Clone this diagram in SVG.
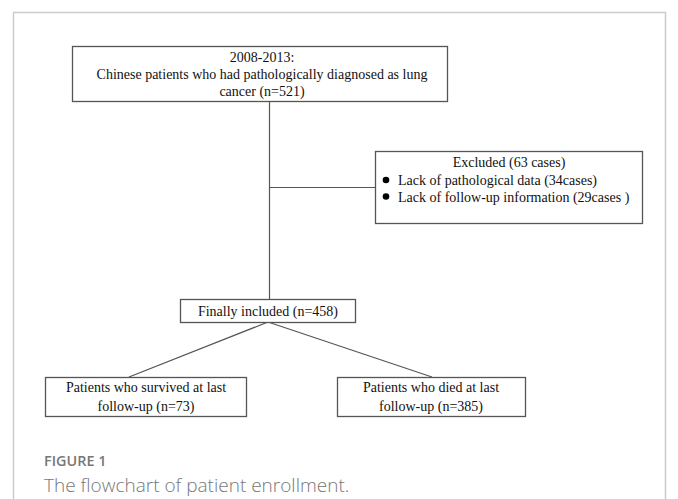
<svg xmlns="http://www.w3.org/2000/svg" width="678" height="499" viewBox="0 0 678 499">
<style>
.box{fill:#fff;stroke:#555;stroke-width:1.3}
.t{font-family:"Liberation Serif","Times New Roman",serif;font-size:14px;fill:#111}
.c{text-anchor:middle}
.ln{stroke:#555;stroke-width:1.2;fill:none}
.cap1{font-family:"Open Sans","Noto Sans",sans-serif;font-size:14.4px;font-weight:600;fill:#777}
.cap2{font-family:"Open Sans","Noto Sans",sans-serif;font-size:19px;font-weight:300;fill:#777}
</style>
<rect x="0" y="0" width="678" height="499" fill="#fff"/>
<path d="M13.5 510 V12.5 H665.5 V510" fill="none" stroke="#ccc" stroke-width="1.5"/>
<g id="connectors">
<line class="ln" x1="269.5" y1="102" x2="269.5" y2="299"/>
<line class="ln" x1="269.5" y1="187.5" x2="375" y2="187.5"/>
<line class="ln" x1="268" y1="322" x2="129" y2="377"/>
<line class="ln" x1="268" y1="322" x2="432" y2="377"/>
</g>
<g id="n-start">
<rect class="box" x="72.5" y="46.5" width="375" height="55"/>
<text class="t c" x="262" y="62">2008-2013:</text>
<text class="t c" x="262" y="79">Chinese patients who had pathologically diagnosed as lung</text>
<text class="t c" x="262" y="96">cancer (n=521)</text>
</g>
<g id="n-excluded">
<rect class="box" x="375.5" y="151.5" width="267" height="72"/>
<text class="t c" x="509" y="167">Excluded (63 cases)</text>
<circle cx="386" cy="180" r="3.3" fill="#000"/>
<circle cx="386" cy="196.5" r="3.3" fill="#000"/>
<text class="t" x="398" y="184.5">Lack of pathological data (34cases)</text>
<text class="t" x="398" y="201.5">Lack of follow-up information (29cases )</text>
</g>
<g id="n-included">
<rect class="box" x="180.5" y="299.5" width="175" height="23"/>
<text class="t c" x="268" y="316">Finally included (n=458)</text>
</g>
<g id="n-survived">
<rect class="box" x="45.5" y="377.5" width="201" height="39"/>
<text class="t c" x="146" y="392">Patients who survived at last</text>
<text class="t c" x="146" y="410.5">follow-up (n=73)</text>
</g>
<g id="n-died">
<rect class="box" x="337.5" y="377.5" width="188" height="39"/>
<text class="t c" x="431" y="392">Patients who died at last</text>
<text class="t c" x="431" y="410.5">follow-up (n=385)</text>
</g>
<text class="cap1" x="44" y="466">FIGURE 1</text>
<text class="cap2" x="44" y="492">The flowchart of patient enrollment.</text>
</svg>
